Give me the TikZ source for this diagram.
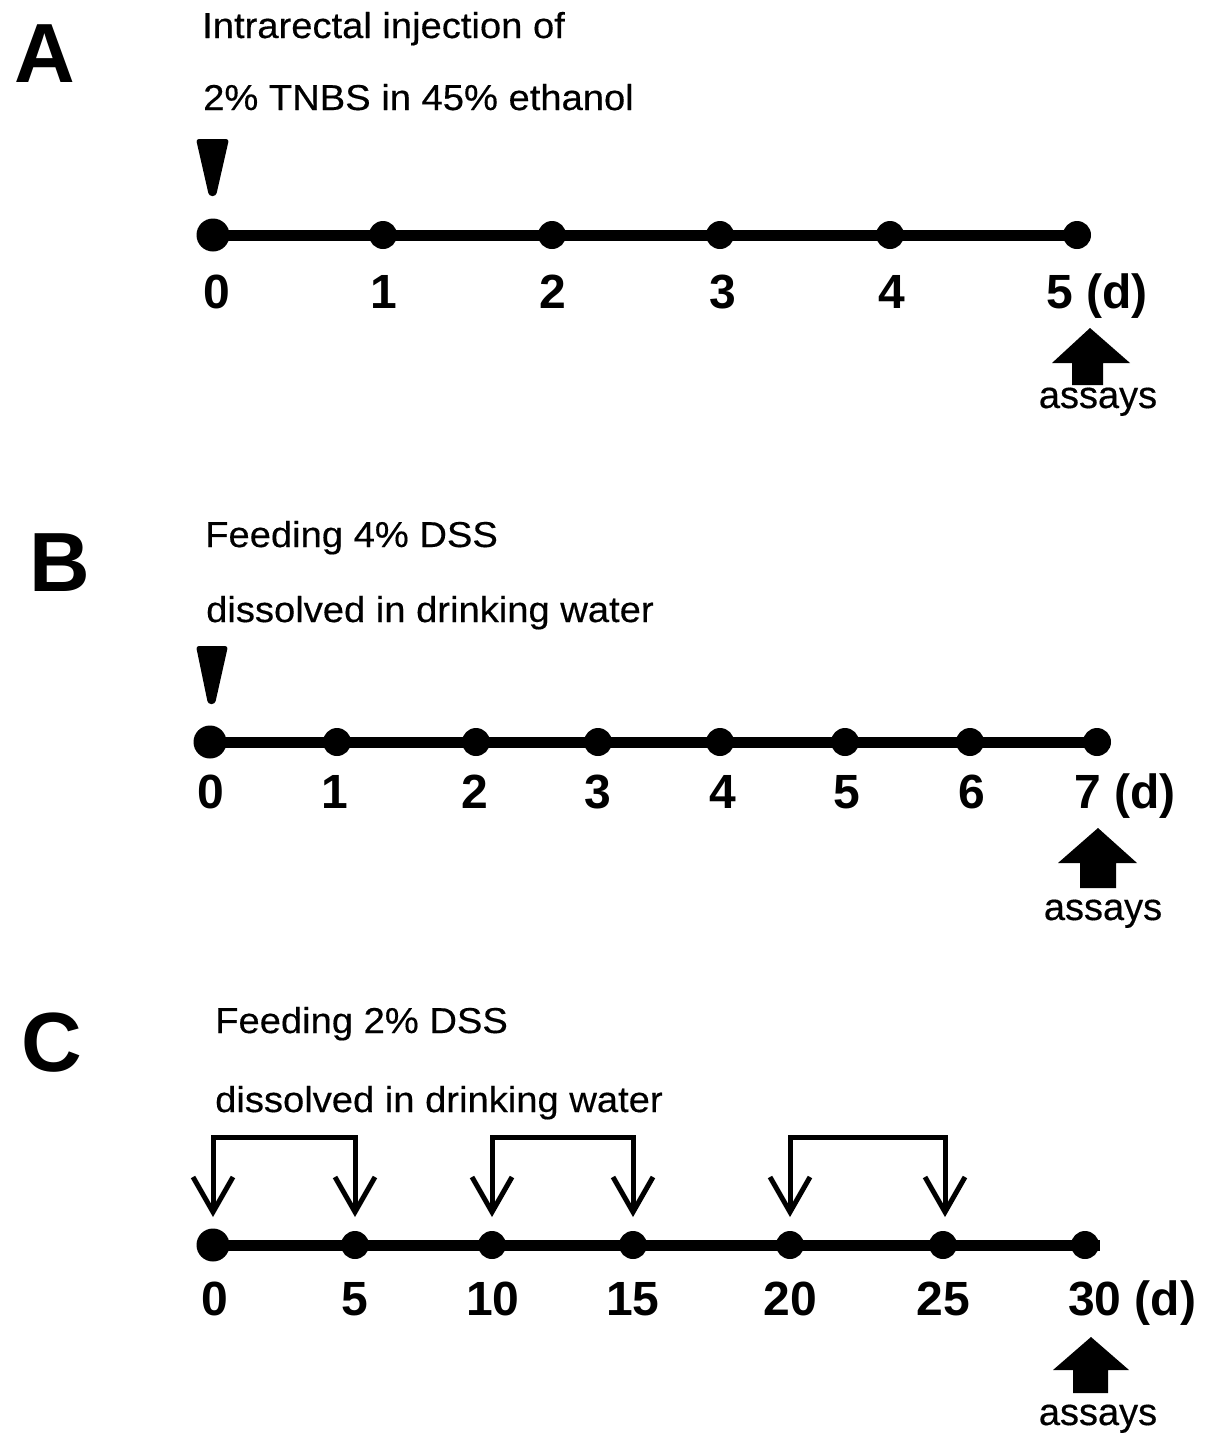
\documentclass[tikz,border=0pt]{standalone}
\usepackage{fontspec}
\setmainfont{Liberation Sans}
\newfontfamily\hdrfont[FakeStretch=1.06,FakeBold=0.4]{Liberation Sans}
\newfontfamily\asyfont[FakeBold=0.4]{Liberation Sans}
\begin{document}
\begin{tikzpicture}[x=1pt,y=-1pt,
 dot/.style={circle,fill=black,inner sep=0,minimum size=28pt},
 bigdot/.style={circle,fill=black,inner sep=0,minimum size=33pt},
 tl/.style={line width=11pt},
 panel/.style={font=\fontsize{84}{90}\selectfont\bfseries,anchor=base west,inner sep=0},
 hdr/.style={font=\hdrfont\fontsize{36}{40}\selectfont,anchor=base west,inner sep=0},
 lab/.style={font=\fontsize{48}{52}\selectfont\bfseries,anchor=base,inner sep=0},
 labw/.style={lab,anchor=base west},
 asy/.style={font=\asyfont\fontsize{38}{42}\selectfont,anchor=base,inner sep=0},
 bk/.style={line width=5pt},
 marker/.style={fill=black,rounded corners=3pt},
 bigarrow/.style={fill=black},
]
\useasboundingbox (0,0) rectangle (1205,1449);

% ---------------- Panel A ----------------
\node[panel] (A) at (14,82) {A};
\node[hdr] (ha1) at (202,38) {Intrarectal injection of};
\node[hdr] (ha2) at (203,110) {2\% TNBS in 45\% ethanol};
\fill[marker] (196,139) -- (229,139) -- (216,196) -- (209,196) -- cycle;
\node[bigdot] (a0) at (213,235) {};
\foreach \n/\x in {1/383,2/552,3/720,4/890,5/1077}
  \node[dot] (a\n) at (\x,235) {};
\coordinate (aend) at (1090,235);
\draw[tl] (a0.center) -- (aend);
\foreach \n/\x in {0/217,1/384,2/553,3/723,4/892}
  \node[lab] (la\n) at (\x,308) {\n};
\node[labw] (la5) at (1046,308) {5 (d)};
\fill[bigarrow] (1072,385) -- (1072,363) -- (1052,363) -- (1090,328) -- (1130,363) -- (1103,363) -- (1103,385) -- cycle;
\node[asy] (asa) at (1098,408) {assays};

% ---------------- Panel B ----------------
\node[panel] (B) at (29,591) {B};
\node[hdr] (hb1) at (205,547) {Feeding 4\% DSS};
\node[hdr] (hb2) at (206,622) {dissolved in drinking water};
\fill[marker] (196,646) -- (228,646) -- (215,704) -- (208,704) -- cycle;
\node[bigdot] (b0) at (210,742) {};
\foreach \n/\x in {1/337,2/476,3/598,4/720,5/845,6/970,7/1097}
  \node[dot] (b\n) at (\x,742) {};
\coordinate (bend) at (1110,742);
\draw[tl] (b0.center) -- (bend);
\foreach \n/\x in {0/211,1/335,2/475,3/598,4/723,5/847,6/972}
  \node[lab] (lb\n) at (\x,808) {\n};
\node[labw] (lb7) at (1074,808) {7 (d)};
\fill[bigarrow] (1080,888) -- (1080,863) -- (1058,863) -- (1098,828) -- (1137,863) -- (1116,863) -- (1116,888) -- cycle;
\node[asy] (asb) at (1103,920) {assays};

% ---------------- Panel C ----------------
\node[panel] (C) at (21,1071) {C};
\node[hdr] (hc1) at (215,1033) {Feeding 2\% DSS};
\node[hdr] (hc2) at (215,1112) {dissolved in drinking water};
\node[bigdot] (c0) at (213,1245) {};
\foreach \n/\x in {1/355,2/492,3/633,4/790,5/943,6/1085}
  \node[dot] (c\n) at (\x,1245) {};
\coordinate (cend) at (1100,1245);
\draw[tl] (c0.center) -- (cend);
\foreach \n/\x in {0/215,5/355,10/493,15/633,20/790,25/943}
  \node[lab] (lc\n) at (\x,1315) {\n};
\node[labw] (lc30) at (1068,1315) {30 (d)};
% brackets with open arrowheads
\foreach \i/\xa/\xb in {1/213/355,2/492/633,3/790/945}{
  \coordinate (t\i a) at (\xa,1212);
  \coordinate (t\i b) at (\xb,1212);
  \draw[bk,line join=miter] (t\i a) -- (\xa,1137) -- (\xb,1137) -- (t\i b);
  \draw[bk,line join=miter] ([xshift=-20pt,yshift=35pt]t\i a) -- (t\i a) -- ([xshift=20pt,yshift=35pt]t\i a);
  \draw[bk,line join=miter] ([xshift=-20pt,yshift=35pt]t\i b) -- (t\i b) -- ([xshift=20pt,yshift=35pt]t\i b);
}
\fill[bigarrow] (1073,1393) -- (1073,1370) -- (1053,1370) -- (1091,1337) -- (1129,1370) -- (1108,1370) -- (1108,1393) -- cycle;
\node[asy] (asc) at (1098,1425) {assays};
\end{tikzpicture}
\end{document}
